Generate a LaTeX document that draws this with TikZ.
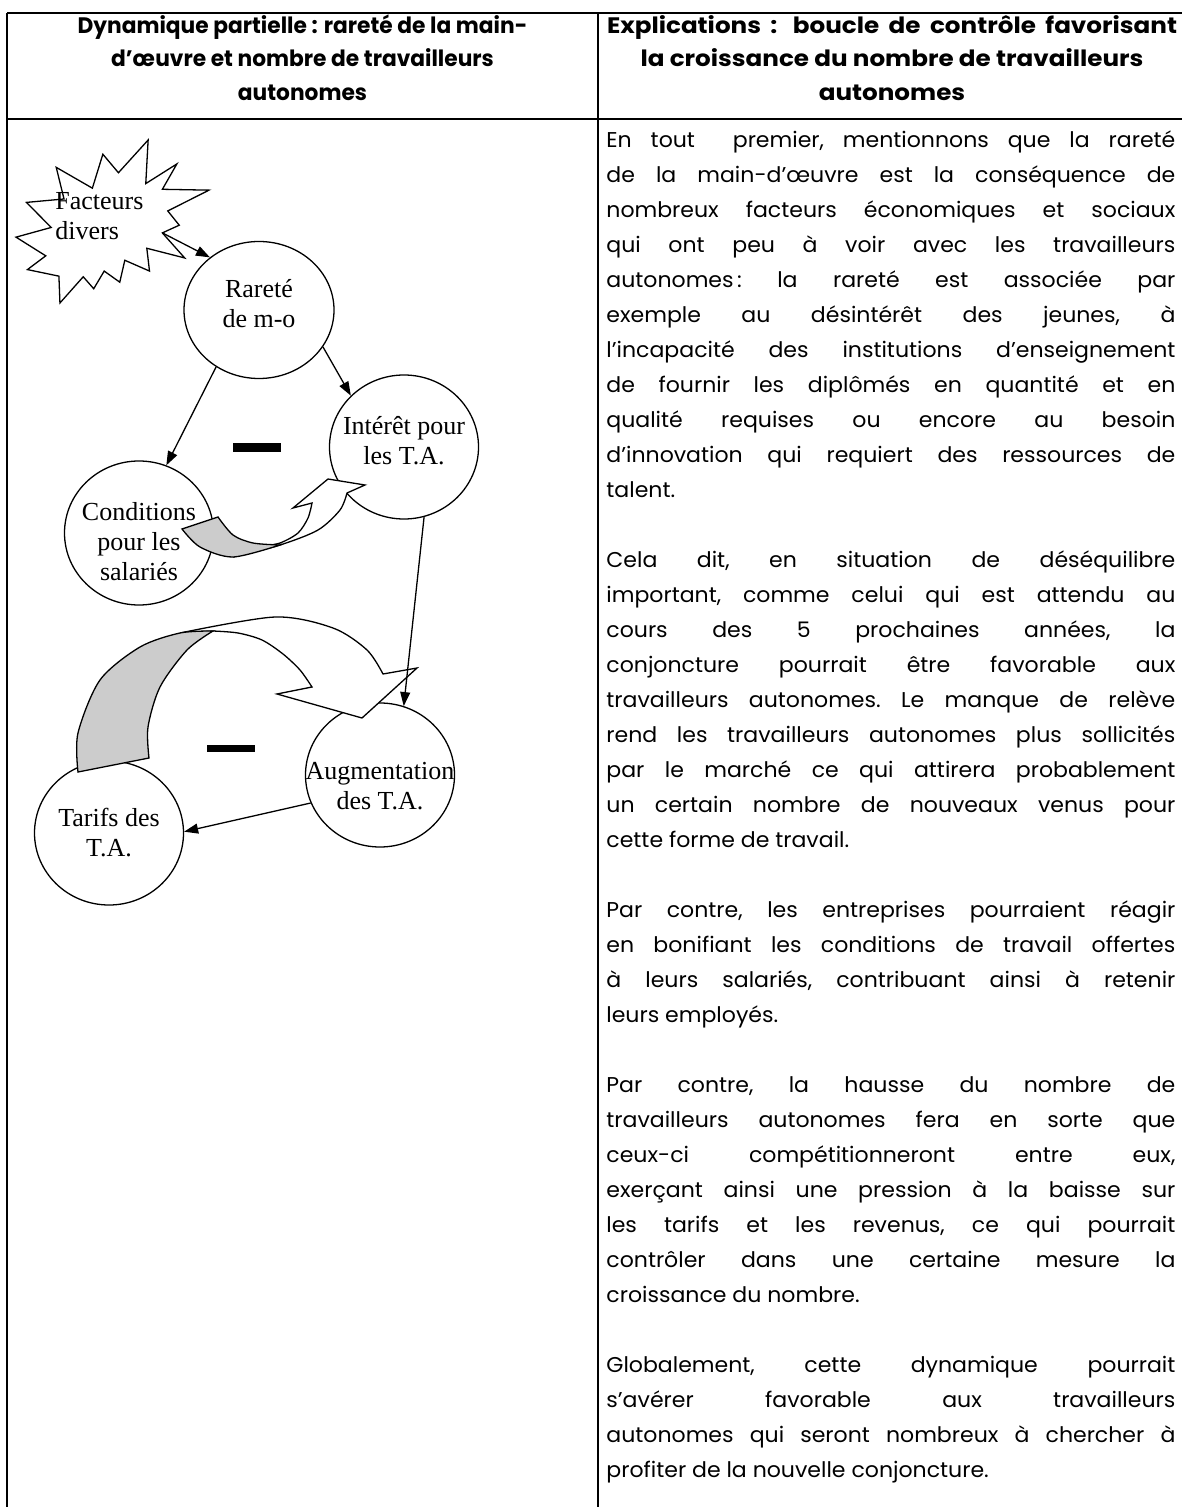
\documentclass[tikz,border=0pt]{standalone}
\usepackage{fontspec}
\setmainfont{Poppins}[FakeStretch=1.03]
\newfontfamily\headfont{Poppins}[FakeStretch=0.97]
\newfontfamily\headwide{Poppins}[FakeStretch=1.1]
\newfontfamily\diagfont{Liberation Serif}
\usetikzlibrary{arrows.meta}
\usetikzlibrary{shapes.geometric}

% one justified line of the explanation column
\newcommand{\jline}[1]{\makebox[\linewidth][s]{#1}\linebreak}

\tikzset{
  grid/.style={line width=1pt},
  headtext/.style={anchor=north, align=center, inner sep=0pt,
    font=\headfont\bfseries\fontsize{11.2}{16.75}\selectfont},
  bodytext/.style={anchor=north west, inner sep=0pt, text width=284.5pt, align=justify,
    font=\fontsize{10.7}{17.5}\selectfont,
    execute at begin node={\parskip=17.5pt\parindent=0pt\frenchspacing}},
  loopnode/.style={draw, ellipse, line width=0.65pt, fill=white, inner sep=0pt,
    minimum width=74.5pt, minimum height=72pt},
  lbl/.style={font=\diagfont\fontsize{13}{15}\selectfont, align=center, inner sep=0pt},
  burst/.style={line width=0.65pt, fill=white},
  block/.style={line width=0.65pt, fill=white},
  backside/.style={line width=0.65pt, fill=black!20},
  cause/.style={-{Triangle[length=7pt,width=5pt]}, line width=0.65pt},
}

\begin{document}
\begin{tikzpicture}[x=0.5pt,y=-0.5pt]
	\useasboundingbox (0,0) rectangle (1182,1507);

	% table
	\draw[grid] (7,13) -- (1182,13);
	\draw[grid] (7,119) -- (1182,119);
	\draw[grid] (7,13) -- (7,1507);
	\draw[grid] (598,13) -- (598,1507);

	\node[headtext] (head-l) at (302.5,9) {\rule{0pt}{12pt}Dynamique partielle : rareté de la main-\\d’œuvre et nombre de travailleurs\\autonomes};
	\node[headtext, font=\headwide\bfseries\fontsize{11.2}{16.75}\selectfont] (head-r) at (892,9) {\rule{0pt}{12pt}\makebox[285pt][s]{Explications : boucle de contrôle favorisant}\\la croissance du nombre de travailleurs\\autonomes};

	\node[bodytext] (expl) at (606,123) {\rule{0pt}{12pt}\jline{En tout \ premier, mentionnons que la rareté}
\jline{de la main-d’œuvre est la conséquence de}
\jline{nombreux facteurs économiques et sociaux}
\jline{qui ont peu à voir avec les travailleurs}
\jline{autonomes\,: la rareté est associée par}
\jline{exemple au désintérêt des jeunes, à}
\jline{l’incapacité des institutions d’enseignement}
\jline{de fournir les diplômés en quantité et en}
\jline{qualité requises ou encore au besoin}
\jline{d’innovation qui requiert des ressources de}
talent.

\jline{Cela dit, en situation de déséquilibre}
\jline{important, comme celui qui est attendu au}
\jline{cours des 5 prochaines années, la}
\jline{conjoncture pourrait être favorable aux}
\jline{travailleurs autonomes. Le manque de relève}
\jline{rend les travailleurs autonomes plus sollicités}
\jline{par le marché ce qui attirera probablement}
\jline{un certain nombre de nouveaux venus pour}
cette forme de travail.

\jline{Par contre, les entreprises pourraient réagir}
\jline{en bonifiant les conditions de travail offertes}
\jline{à leurs salariés, contribuant ainsi à retenir}
leurs employés.

\jline{Par contre, la hausse du nombre de}
\jline{travailleurs autonomes fera en sorte que}
\jline{ceux-ci compétitionneront entre eux,}
\jline{exerçant ainsi une pression à la baisse sur}
\jline{les tarifs et les revenus, ce qui pourrait}
\jline{contrôler dans une certaine mesure la}
croissance du nombre.

\jline{Globalement, cette dynamique pourrait}
\jline{s’avérer favorable aux travailleurs}
\jline{autonomes qui seront nombreux à chercher à}
profiter de la nouvelle conjoncture.};

	% explosion
	\begin{scope}[shift={(16,140)}, xscale=0.8935, yscale=0.7546]
	\filldraw[burst] (114.64,43.40) -- (97.22,18.87) -- (85.48,63.83) -- (45.03,36.26)
		-- (53.73,78.16) -- (11.74,82.70) -- (39.34,115.92) -- (0,128.75)
		-- (33.29,153.50) -- (12.83,171.75) -- (48.04,180.44) -- (49.18,216)
		-- (75.25,181.25) -- (86.98,197.12) -- (98.71,173.71) -- (116.14,188.44)
		-- (121.78,159.37) -- (149.43,173.71) -- (146.40,143.48) -- (188.78,156.32)
		-- (163.82,123.11) -- (182.70,112.92) -- (169.86,94.04) -- (216,66.46)
		-- (163.82,65.33) -- (180.05,31.72) -- (145.24,57.78) -- (147.89,0) -- cycle;
	\end{scope}
	\coordinate (fac-tip) at (162.4,232.9);
	\node[lbl, align=left, anchor=north west] (fac) at (55,192) {Facteurs\\divers};

	% loop variables
	\node[loopnode, minimum width=75pt, minimum height=68.5pt,
		label={[lbl,yshift=3pt]center:{Rareté\\de m-o}}] (rar) at (259,310) {};
	\node[loopnode, label={[lbl,yshift=3pt]center:{Intérêt pour\\les T.A.}}] (inte) at (404,447) {};
	\node[loopnode, label={[lbl,yshift=-4.5pt]center:{Conditions\\pour les\\salariés}}] (cond) at (139,533) {};
	\node[loopnode, label={[lbl,yshift=-5.5pt]center:{Augmentation\\des T.A.}}] (augm) at (380,775) {};
	\node[loopnode, label={[lbl]center:{Tarifs des\\T.A.}}] (tarif) at (109,833) {};

	% curved loop arrows
	\filldraw[block] (233,557) -- plot[smooth] coordinates {(233,557) (280,545) (318,530) (340,510) (347,493)}
		-- (365,485) -- (328,479) -- (293,508) -- (312,503)
		-- plot[smooth] coordinates {(312,503) (308,518) (298,533) (280,543) (262,546)} -- cycle;
	\filldraw[backside] (182,529) -- (218,517)
		-- plot[smooth] coordinates {(218,517) (233,535) (253,543) (280,545)}
		-- plot[smooth] coordinates {(280,545) (233,557) (200,547) (182,529)} -- cycle;

	\filldraw[block] (180,633) -- plot[smooth] coordinates {(180,633) (275,617) (333,628) (367,650) (383,674)}
		-- (417,668) -- (362,718) -- (277,694) -- (312,687)
		-- plot[smooth] coordinates {(312,687) (300,670) (283,654) (262,640) (238,633) (213,631)} -- cycle;
	\filldraw[backside] (78,772) -- (149,758)
		-- plot[smooth] coordinates {(149,758) (148,727) (160,687) (187,650) (213,631)}
		-- plot[smooth] coordinates {(213,631) (180,633) (140,647) (100,680) (78,733) (78,772)} -- cycle;

	\fill (233,443) rectangle (281,452);
	\fill (207,745) rectangle (255,752);

	\draw[cause] (fac-tip) -- (rar.133);
	\draw[cause] (rar.-30) -- (inte.136);
	\draw[cause] (rar.233) -- (cond.68);
	\draw[cause] (inte.-74) -- (augm.71);
	\draw[cause] (augm.202) -- (tarif.1);
\end{tikzpicture}
\end{document}
